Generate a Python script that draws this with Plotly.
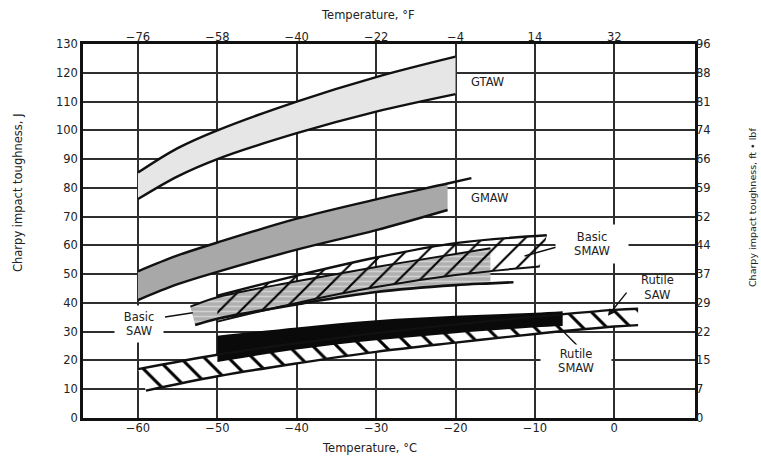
import plotly.graph_objects as go

# ---------------- data ----------------
temp_c_ticks = [-60, -50, -40, -30, -20, -10, 0]
temp_f_labels = ["\u221276", "\u221258", "\u221240", "\u221222", "\u22124", "14", "32"]
j_ticks = [0, 10, 20, 30, 40, 50, 60, 70, 80, 90, 100, 110, 120, 130]
ftlbf_labels = ["0", "7", "15", "22", "29", "37", "44", "52", "59", "66", "74", "81", "88", "96"]

gtaw_x = [-60, -55, -50, -40, -30, -20]
gtaw_hi = [85.3, 93.8, 100, 110, 118.5, 125.6]
gtaw_lo = [76.1, 84, 90, 99, 106.5, 112.6]

gmaw_hi_x = [-60, -55, -50, -40, -30, -21, -18]
gmaw_hi = [51, 56.5, 61, 69.3, 76, 81.5, 83.4]
gmaw_lo_x = [-60, -55, -50, -40, -30, -21]
gmaw_lo = [41, 46.5, 50.8, 58.5, 65.3, 72.3]

basic_saw_hi_x = [-53.4, -50, -40, -30, -20, -15.6]
basic_saw_hi = [38.7, 42, 47.5, 52.5, 57, 59]
basic_saw_lo_x = [-52.8, -50, -40, -30, -20, -15.6, -12.7]
basic_saw_lo = [32.3, 34.5, 39.5, 43.8, 46.2, 46.8, 47.2]

basic_smaw_hi_x = [-50, -40, -30, -20, -8.5]
basic_smaw_hi = [42.5, 49.5, 55.8, 60.8, 63.5]
basic_smaw_lo_x = [-50, -40, -30, -20, -9.4]
basic_smaw_lo = [33.5, 40, 45.5, 49.7, 52.7]

rutile_saw_hi_x = [-60, -50, -40, -30, -20, -10, 0, 3]
rutile_saw_hi = [17, 22, 26, 29.5, 32.5, 35.2, 37.6, 38]
rutile_saw_lo_x = [-59, -50, -40, -30, -20, -10, 0, 3]
rutile_saw_lo = [9.5, 14.5, 19, 23, 26.2, 29.2, 31.8, 32.3]

rutile_smaw_x = [-50, -40, -30, -20, -10, -6.5]
rutile_smaw_hi = [28.6, 31.5, 34, 35.5, 36.6, 37.1]
rutile_smaw_lo = [19.5, 23.8, 27, 29.5, 31.5, 32]

# label texts and anchor positions (°C, J)
label_text = ["GTAW", "GMAW", "Basic<br>SMAW", "Rutile<br>SAW", "Rutile<br>SMAW", "Basic<br>SAW"]
label_x = [-16.0, -15.7, -2.8, 5.4, -4.8, -59.9]
label_y = [116.8, 76.5, 60.4, 45.2, 19.8, 32.7]
label_box_w = [None, None, 70, None, 68, 46]
label_box_h = [None, None, 36, None, 30, 34]

# leader lines (x0, y0, x1, y1)
leaders = [
    (-56.6, 35.1, -53.1, 36.6),
    (-6.8, 59.8, -11.3, 56.3),
    (-4.7, 25.3, -6.6, 30.6),
]
arrow_rutile_saw = (-0.8, 35.5, 1.7, 44.1)

FONT = "DejaVu Sans"
INK = "#111111"
TXT = "#222222"

fig = go.Figure()


def add_band(lx, ly, hx, hy, xmax, **fillkw):
    lx2 = [x for x in lx if x <= xmax]
    ly2 = ly[:len(lx2)]
    hx2 = [x for x in hx if x <= xmax]
    hy2 = hy[:len(hx2)]
    fig.add_trace(go.Scatter(x=lx2, y=ly2, mode="lines", line=dict(width=0, shape="spline"),
                             hoverinfo="skip", showlegend=False))
    fig.add_trace(go.Scatter(x=hx2, y=hy2, mode="lines", line=dict(width=0, shape="spline"),
                             fill="tonexty", hoverinfo="skip", showlegend=False, **fillkw))


def add_line(x, y, w=2.4):
    fig.add_trace(go.Scatter(x=x, y=y, mode="lines", line=dict(color=INK, width=w, shape="spline"),
                             hoverinfo="skip", showlegend=False))


# GTAW
add_band(gtaw_x, gtaw_lo, gtaw_x, gtaw_hi, 100, fillcolor="#e6e6e6")
add_line(gtaw_x, gtaw_hi)
add_line(gtaw_x, gtaw_lo)

# GMAW
add_band(gmaw_lo_x, gmaw_lo, gmaw_hi_x, gmaw_hi, -21, fillcolor="#a8a8a8")
add_line(gmaw_hi_x, gmaw_hi)
add_line(gmaw_lo_x, gmaw_lo)

# Basic SAW (grey with horizontal hatching)
add_band(basic_saw_lo_x, basic_saw_lo, basic_saw_hi_x, basic_saw_hi, -15.6,
         fillcolor="#b8b8b8",
         fillpattern=dict(shape="-", fgcolor="#f4f4f4", bgcolor="#b0b0b0", size=5, solidity=0.3))
# Basic SMAW (diagonal hatching)
add_band(basic_smaw_lo_x, basic_smaw_lo, basic_smaw_hi_x, basic_smaw_hi, 100,
         fillcolor="rgba(0,0,0,0)",
         fillpattern=dict(shape="/", fgcolor="#000000", bgcolor="rgba(0,0,0,0)", size=15,
                          solidity=0.14, fgopacity=1))
add_line(basic_saw_hi_x, basic_saw_hi, 2.0)
add_line(basic_saw_lo_x, basic_saw_lo, 2.6)
add_line(basic_smaw_hi_x, basic_smaw_hi, 2.4)
add_line(basic_smaw_lo_x, basic_smaw_lo, 2.0)

# Rutile SAW (white with back-slash hatching)
add_band(rutile_saw_lo_x, rutile_saw_lo, rutile_saw_hi_x, rutile_saw_hi, 100,
         fillcolor="white",
         fillpattern=dict(shape="\\", fgcolor="#000000", bgcolor="white", size=17, solidity=0.18,
                          fgopacity=1))
# Rutile SMAW (solid black)
add_band(rutile_smaw_x, rutile_smaw_lo, rutile_smaw_x, rutile_smaw_hi, 100, fillcolor="#0a0a0a")
add_line(rutile_saw_hi_x, rutile_saw_hi)
add_line(rutile_saw_lo_x, rutile_saw_lo)

# invisible trace to activate the secondary (°F / ft·lbf) axes
fig.add_trace(go.Scatter(x=[temp_c_ticks[0]], y=[j_ticks[0]], xaxis="x2", yaxis="y2",
                         mode="markers", marker=dict(opacity=0), hoverinfo="skip", showlegend=False))

XR = [-66.93, 10.17]
YR = [0, 130]
tickfont = dict(family=FONT, size=11.5, color=TXT)
grid = dict(showgrid=True, gridcolor="#2e2e2e", gridwidth=1.6, zeroline=False)

fig.update_layout(
    width=761, height=457,
    margin=dict(l=83, r=66, t=44, b=39),
    paper_bgcolor="white", plot_bgcolor="white",
    xaxis=dict(range=XR, tickmode="array", tickvals=temp_c_ticks, ticks="", ticklabelstandoff=-3,
               tickfont=tickfont, showline=True, linecolor="#111", linewidth=2.5, mirror=True, **grid),
    yaxis=dict(range=YR, tickmode="array", tickvals=j_ticks, ticks="",
               tickfont=tickfont, showline=True, linecolor="#111", linewidth=2.5, mirror=True, **grid),
    xaxis2=dict(range=XR, overlaying="x", side="top", tickmode="array", tickvals=temp_c_ticks,
                ticktext=temp_f_labels, ticks="", tickfont=tickfont, showgrid=False, zeroline=False,
                showline=False),
    yaxis2=dict(range=YR, overlaying="y", side="right", tickmode="array", tickvals=j_ticks,
                ticktext=ftlbf_labels, ticks="", tickfont=tickfont, showgrid=False, zeroline=False,
                showline=False),
)

annos = []
for t, x, y, w, h in zip(label_text, label_x, label_y, label_box_w, label_box_h):
    a = dict(x=x, y=y, xref="x", yref="y", text=t, showarrow=False, xanchor="center", yanchor="middle",
             font=dict(family=FONT, size=11.5, color=TXT), align="center")
    if w is not None:
        a.update(bgcolor="white", width=w, height=h)
    annos.append(a)

ax_, ay_, tx_, ty_ = arrow_rutile_saw
annos.append(dict(x=ax_, y=ay_, ax=tx_, ay=ty_, xref="x", yref="y", axref="x", ayref="y",
                  text="", showarrow=True, arrowhead=2, arrowsize=1, arrowwidth=1.4, arrowcolor=INK))

title_common = dict(xref="paper", yref="paper", showarrow=False, xanchor="center", yanchor="middle")
annos += [
    dict(text="Temperature, \u00b0F", x=0.4665, y=1.0775,
         font=dict(family=FONT, size=11.5, color=TXT), **title_common),
    dict(text="Temperature, \u00b0C", x=0.4682, y=-0.0802,
         font=dict(family=FONT, size=11.5, color=TXT), **title_common),
    dict(text="Charpy impact toughness, J", x=-0.1062, y=0.6016, textangle=-90,
         font=dict(family=FONT, size=11.5, color=TXT), **title_common),
    dict(text="Charpy impact toughness, ft \u2022 lbf", x=1.0948, y=0.5615, textangle=-90,
         font=dict(family=FONT, size=9.5, color=TXT), **title_common),
]
fig.update_layout(annotations=annos)

for x0, y0, x1, y1 in leaders:
    fig.add_shape(type="line", x0=x0, y0=y0, x1=x1, y1=y1, xref="x", yref="y",
                  line=dict(color=INK, width=1.4))

fig.write_html("out.html")
